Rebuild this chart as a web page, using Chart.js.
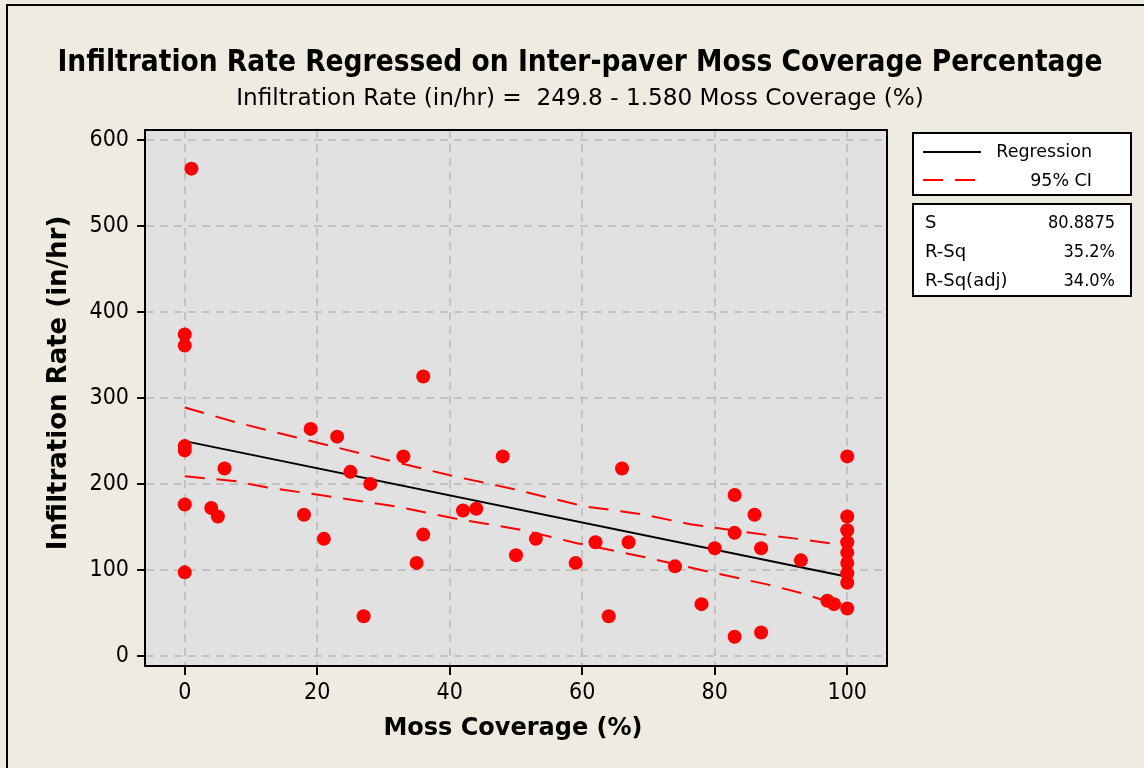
<!DOCTYPE html>
<html>
<head>
<meta charset="utf-8">
<script src="https://cdn.jsdelivr.net/npm/chart.js@4.4.1/dist/chart.umd.min.js"></script>
<style>
  html, body { margin: 0; padding: 0; background: #efebe1; }
  #wrap { width: 1144px; height: 768px; position: relative; }
</style>
</head>
<body>
<div id="wrap"><canvas id="c" width="1144" height="768"></canvas></div>
<script>
// ---- data ----
const mossCoverage = [0,0,0,0,0,0,1,4,5,6,18,19,21,23,25,27,28,33,35,36,36,42,44,48,50,53,59,62,64,66,67,74,78,80,83,83,83,86,87,87,93,97,98,100,100,100,100,100,100,100,100,100];
const infiltrationRate = [374,361,244,239,176,97,567,172,162,218,164,264,136,255,214,46,200,232,108,325,141,169,171,232,117,136,108,132,46,218,132,104,60,125,187,143,22,164,125,27,111,64,60,232,162,146,132,120,108,96,85,55];

const regressionX = [0, 100];
const regressionY = [249.8, 91.8];

const ciUpperX = [0, 7.6, 16.9, 31.5, 40, 49.6, 60.2, 68.8, 76.3, 85.4, 92.5, 100];
const ciUpperY = [289, 272, 254, 226, 210, 194, 174, 165, 153, 143, 136, 128];
const ciLowerX = [0, 7.8, 12.3, 20.4, 31.7, 40.6, 51.1, 59.2, 69.3, 78.9, 87.9, 93, 100];
const ciLowerY = [209, 203, 196, 187, 174, 160, 146, 131, 115, 98, 83, 73, 56];

const xTicks = [0, 20, 40, 60, 80, 100];
const yTicks = [0, 100, 200, 300, 400, 500, 600];

const titleText = 'Infiltration Rate Regressed on Inter-paver Moss Coverage Percentage';
const subtitleText = 'Infiltration Rate (in/hr) =  249.8 - 1.580 Moss Coverage (%)';
const xTitle = 'Moss Coverage (%)';
const yTitle = 'Infiltration Rate (in/hr)';
const legendLabels = ['Regression', '95% CI'];
const statNames = ['S', 'R-Sq', 'R-Sq(adj)'];
const statValues = ['80.8875', '35.2%', '34.0%'];

// ---- styling ----
const FONT_C = '"DejaVu Sans Condensed", "DejaVu Sans", sans-serif';
const FONT = '"DejaVu Sans", sans-serif';
const BG = '#efebe1';
const PLOT_BG = '#e1e1e1';
const GRID = '#c3c3c3';
const RED = '#ff0000';

const pts = (xs, ys) => xs.map((x, i) => ({ x: x, y: ys[i] }));

const decor = {
  id: 'decor',
  beforeDraw(chart) {
    const { ctx, chartArea: a } = chart;
    ctx.save();
    ctx.fillStyle = BG;
    ctx.fillRect(0, 0, chart.width, chart.height);
    ctx.fillStyle = PLOT_BG;
    ctx.fillRect(a.left, a.top, a.right - a.left, a.bottom - a.top);
    ctx.strokeStyle = '#000';
    ctx.lineWidth = 2;
    ctx.strokeRect(7, 5, chart.width + 20, chart.height + 20);
    ctx.restore();
  },
  afterDraw(chart) {
    const { ctx, chartArea: a } = chart;
    ctx.save();
    ctx.strokeStyle = '#000';
    ctx.lineWidth = 2;
    ctx.strokeRect(a.left, a.top, a.right - a.left, a.bottom - a.top);

    ctx.fillStyle = '#000';
    ctx.textAlign = 'center';
    ctx.textBaseline = 'alphabetic';
    ctx.font = 'bold 29.5px ' + FONT_C;
    ctx.fillText(titleText, 580, 71);
    ctx.font = '23px ' + FONT_C;
    ctx.save();
    ctx.translate(580, 105);
    ctx.scale(1.12, 1);
    ctx.fillText(subtitleText, 0, 0);
    ctx.restore();

    ctx.font = 'bold 24px ' + FONT;
    ctx.fillText(xTitle, 513, 735);
    ctx.save();
    ctx.translate(66, 383);
    ctx.rotate(-Math.PI / 2);
    ctx.font = 'bold 26px ' + FONT;
    ctx.fillText(yTitle, 0, 0);
    ctx.restore();

    const lx = 913, lw = 218;
    ctx.fillStyle = '#fff';
    ctx.fillRect(lx, 133, lw, 62);
    ctx.strokeRect(lx, 133, lw, 62);
    ctx.fillRect(lx, 204, lw, 92);
    ctx.strokeRect(lx, 204, lw, 92);

    ctx.lineWidth = 2;
    ctx.strokeStyle = '#000';
    ctx.beginPath(); ctx.moveTo(923, 152); ctx.lineTo(981, 152); ctx.stroke();
    ctx.strokeStyle = RED;
    ctx.setLineDash([20, 12]);
    ctx.beginPath(); ctx.moveTo(923, 180); ctx.lineTo(981, 180); ctx.stroke();
    ctx.setLineDash([]);

    ctx.fillStyle = '#000';
    ctx.font = '17.5px ' + FONT;
    ctx.textAlign = 'right';
    ctx.fillText(legendLabels[0], 1092, 157);
    ctx.fillText(legendLabels[1], 1092, 186);

    const rows = [221, 250, 279];
    statNames.forEach((n, i) => {
      ctx.textAlign = 'left';
      ctx.font = '18px ' + FONT;
      ctx.fillText(n, 925, rows[i] + 7);
      ctx.textAlign = 'right';
      ctx.font = '18px ' + FONT_C;
      ctx.fillText(statValues[i], 1115, rows[i] + 7);
    });
    ctx.restore();
  }
};

new Chart(document.getElementById('c'), {
  type: 'scatter',
  data: {
    datasets: [
      {
        label: 'Data',
        data: pts(mossCoverage, infiltrationRate),
        backgroundColor: RED,
        borderWidth: 0,
        pointRadius: 7,
        pointHoverRadius: 7,
        showLine: false
      },
      {
        label: 'Regression',
        type: 'line',
        data: pts(regressionX, regressionY),
        borderColor: '#000',
        borderWidth: 2,
        pointRadius: 0,
        fill: false,
        tension: 0
      },
      {
        label: '95% CI upper',
        type: 'line',
        data: pts(ciUpperX, ciUpperY),
        borderColor: RED,
        borderWidth: 2,
        borderDash: [20, 12],
        pointRadius: 0,
        fill: false,
        tension: 0
      },
      {
        label: '95% CI lower',
        type: 'line',
        data: pts(ciLowerX, ciLowerY),
        borderColor: RED,
        borderWidth: 2,
        borderDash: [20, 12],
        pointRadius: 0,
        fill: false,
        tension: 0
      }
    ]
  },
  options: {
    responsive: false,
    animation: false,
    events: [],
    layout: { padding: { top: 130, right: 257, left: 0, bottom: 0 } },
    plugins: { legend: { display: false }, tooltip: { enabled: false }, title: { display: false } },
    scales: {
      x: {
        type: 'linear',
        min: -6,
        max: 106,
        afterFit(scale) { scale.height = 102; },
        afterBuildTicks(scale) { scale.ticks = xTicks.map(v => ({ value: v })); },
        grid: { color: GRID, lineWidth: 2, tickLength: 9, tickColor: '#000', tickWidth: 2, tickBorderDash: [] },
        border: { display: true, color: '#000', width: 2, dash: [8, 6] },
        ticks: { color: '#000', font: { family: FONT_C, size: 23 }, padding: 4, maxRotation: 0, autoSkip: false }
      },
      y: {
        type: 'linear',
        min: -12,
        max: 612,
        afterFit(scale) { scale.width = 145; },
        afterBuildTicks(scale) { scale.ticks = yTicks.map(v => ({ value: v })); },
        grid: { color: GRID, lineWidth: 2, tickLength: 8, tickColor: '#000', tickWidth: 2, tickBorderDash: [] },
        border: { display: true, color: '#000', width: 2, dash: [8, 6] },
        ticks: { color: '#000', font: { family: FONT_C, size: 23 }, padding: 8, autoSkip: false }
      }
    }
  },
  plugins: [decor]
});
</script>
</body>
</html>
